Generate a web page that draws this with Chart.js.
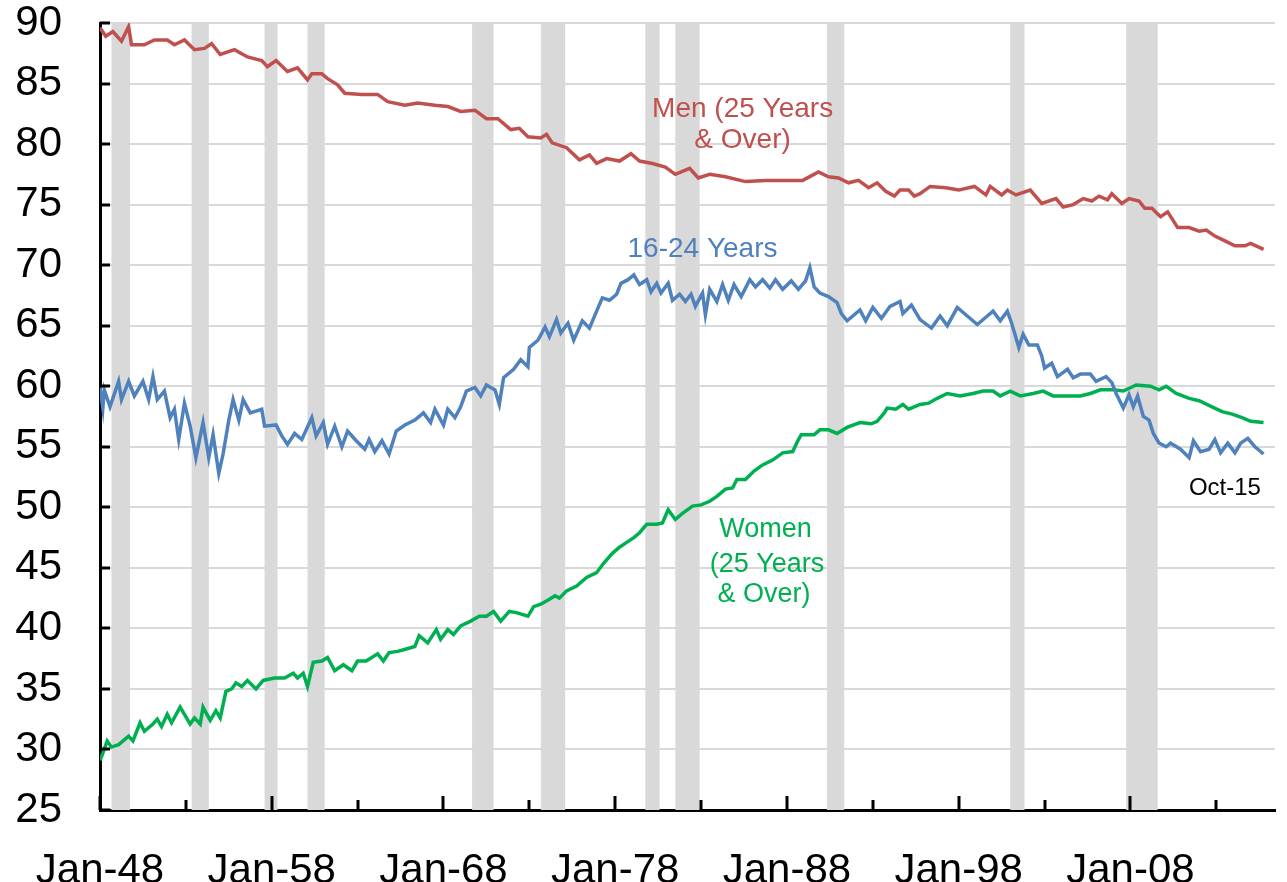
<!DOCTYPE html>
<html>
<head>
<meta charset="utf-8">
<script src="https://cdn.jsdelivr.net/npm/chart.js@4.4.0/dist/chart.umd.min.js"></script>
<style>
  html, body { margin: 0; padding: 0; background: #fff; }
</style>
</head>
<body>
<canvas id="myChart" width="1287" height="882"></canvas>
<script>
// months counted from Jan-48 (0 = Jan-48, 813 = Oct-15)
const menMonth = [0, 4, 9, 15, 20, 22, 31, 38, 47, 52, 59, 66, 73, 78, 84, 94, 103, 113, 117, 123, 131, 138, 145, 148, 155, 159, 166, 171, 183, 194, 201, 213, 222, 234, 243, 252, 262, 270, 278, 287, 293, 299, 308, 312, 316, 326, 335, 342, 347, 354, 363, 371, 377, 386, 395, 402, 412, 418, 426, 437, 451, 465, 479, 491, 502, 509, 516, 523, 530, 537, 543, 549, 555, 559, 565, 569, 573, 580, 591, 600, 611, 619, 622, 630, 634, 640, 650, 658, 668, 673, 680, 687, 693, 698, 704, 707, 714, 719, 726, 730, 735, 741, 746, 753, 761, 768, 773, 779, 786, 793, 800, 804, 813];
const menRate = [89.6, 88.9, 89.3, 88.5, 89.7, 88.2, 88.2, 88.6, 88.6, 88.2, 88.6, 87.8, 87.9, 88.3, 87.4, 87.8, 87.2, 86.9, 86.4, 86.9, 86.0, 86.3, 85.3, 85.8, 85.8, 85.4, 84.9, 84.2, 84.1, 84.1, 83.5, 83.2, 83.4, 83.2, 83.1, 82.7, 82.8, 82.1, 82.1, 81.2, 81.3, 80.6, 80.5, 80.8, 80.1, 79.7, 78.7, 79.1, 78.4, 78.8, 78.6, 79.2, 78.6, 78.4, 78.1, 77.5, 78.0, 77.2, 77.5, 77.3, 76.9, 77.0, 77.0, 77.0, 77.7, 77.3, 77.2, 76.8, 77.0, 76.4, 76.8, 76.1, 75.7, 76.2, 76.2, 75.7, 75.9, 76.5, 76.4, 76.2, 76.5, 75.8, 76.5, 75.8, 76.2, 75.8, 76.2, 75.1, 75.5, 74.8, 75.0, 75.5, 75.3, 75.7, 75.4, 75.9, 75.1, 75.5, 75.3, 74.7, 74.7, 74.0, 74.4, 73.1, 73.1, 72.8, 72.9, 72.4, 72.0, 71.6, 71.6, 71.8, 71.3];

const youthMonth = [0, 2, 3, 7, 13, 15, 20, 24, 30, 34, 37, 40, 45, 49, 52, 55, 59, 63, 67, 72, 76, 79, 83, 86, 90, 93, 97, 100, 105, 113, 115, 123, 127, 131, 136, 141, 148, 151, 156, 159, 164, 169, 173, 179, 185, 188, 192, 197, 202, 207, 213, 220, 226, 231, 234, 240, 243, 248, 252, 256, 262, 266, 270, 276, 279, 282, 289, 294, 299, 300, 306, 311, 314, 319, 322, 327, 331, 337, 342, 347, 351, 356, 361, 364, 369, 373, 377, 382, 385, 389, 392, 397, 400, 405, 409, 413, 416, 421, 423, 426, 431, 435, 439, 443, 448, 454, 458, 463, 468, 472, 477, 483, 488, 493, 496, 499, 503, 509, 515, 518, 522, 531, 535, 540, 546, 552, 559, 561, 567, 573, 581, 587, 592, 599, 606, 613, 620, 624, 629, 634, 637, 640, 642, 645, 649, 655, 658, 660, 665, 669, 676, 680, 685, 692, 696, 703, 707, 710, 715, 719, 722, 725, 729, 733, 736, 740, 745, 748, 755, 761, 764, 769, 775, 779, 783, 788, 793, 797, 802, 807, 813];
const youthRate = [59.9, 58.2, 59.7, 58.3, 60.4, 58.9, 60.4, 59.2, 60.4, 58.9, 60.8, 58.9, 59.6, 57.4, 58.1, 55.6, 58.6, 56.7, 54.1, 57.0, 54.1, 56.0, 52.8, 54.4, 57.2, 58.9, 57.2, 58.9, 57.8, 58.1, 56.7, 56.8, 55.9, 55.2, 56.1, 55.6, 57.4, 55.9, 57.0, 55.2, 56.7, 55.0, 56.3, 55.5, 54.8, 55.6, 54.6, 55.5, 54.4, 56.3, 56.8, 57.2, 57.8, 57.0, 58.1, 56.8, 58.1, 57.4, 58.3, 59.6, 59.9, 59.2, 60.1, 59.7, 58.5, 60.7, 61.4, 62.2, 61.6, 63.2, 63.8, 64.9, 64.1, 65.5, 64.4, 65.2, 63.8, 65.4, 64.8, 66.2, 67.3, 67.1, 67.6, 68.5, 68.8, 69.2, 68.4, 68.8, 67.8, 68.5, 67.7, 68.5, 67.1, 67.6, 67.0, 67.6, 66.6, 67.7, 65.9, 68.0, 67.0, 68.4, 67.1, 68.4, 67.4, 68.8, 68.2, 68.8, 68.1, 68.8, 68.0, 68.7, 68.0, 68.7, 69.8, 68.2, 67.7, 67.4, 66.9, 66.0, 65.4, 66.3, 65.4, 66.5, 65.6, 66.6, 67.0, 66.0, 66.7, 65.5, 64.8, 65.8, 65.0, 66.5, 65.8, 65.1, 65.8, 66.2, 65.4, 66.2, 65.2, 64.0, 63.2, 64.3, 63.4, 63.4, 62.5, 61.5, 61.9, 60.8, 61.4, 60.7, 61.0, 61.0, 60.4, 60.8, 60.3, 59.4, 58.2, 59.3, 58.3, 59.2, 57.5, 57.2, 56.1, 55.3, 55.0, 55.3, 54.8, 54.1, 55.5, 54.6, 54.8, 55.6, 54.5, 55.3, 54.5, 55.3, 55.7, 55.0, 54.4];

const womenMonth = [0, 2, 5, 8, 13, 20, 23, 28, 31, 37, 40, 43, 47, 50, 56, 59, 63, 66, 70, 72, 77, 81, 84, 88, 92, 95, 99, 103, 109, 114, 122, 129, 135, 138, 142, 145, 149, 155, 159, 164, 170, 176, 180, 186, 194, 198, 202, 208, 214, 220, 223, 229, 235, 238, 243, 247, 252, 259, 265, 270, 275, 280, 286, 291, 299, 303, 308, 314, 318, 321, 326, 333, 340, 347, 352, 358, 363, 368, 373, 377, 382, 389, 393, 397, 402, 407, 414, 420, 426, 431, 437, 442, 445, 451, 457, 463, 470, 477, 484, 488, 490, 499, 503, 509, 515, 522, 531, 539, 543, 548, 550, 556, 561, 565, 573, 579, 585, 592, 601, 610, 617, 624, 629, 636, 643, 652, 659, 666, 676, 685, 692, 699, 708, 715, 724, 734, 740, 745, 752, 761, 768, 777, 784, 791, 798, 804, 813];
const womenRate = [29.1, 29.7, 30.7, 30.2, 30.4, 31.1, 30.7, 32.2, 31.5, 32.1, 32.5, 31.9, 32.9, 32.2, 33.5, 32.9, 32.1, 32.6, 32.1, 33.5, 32.4, 33.2, 32.6, 34.8, 35.0, 35.5, 35.2, 35.7, 35.0, 35.7, 35.9, 35.9, 36.3, 35.9, 36.3, 35.2, 37.2, 37.3, 37.6, 36.5, 37.0, 36.5, 37.3, 37.3, 37.9, 37.3, 38.0, 38.1, 38.3, 38.5, 39.4, 38.8, 39.9, 39.1, 39.9, 39.5, 40.2, 40.6, 41.0, 41.0, 41.4, 40.6, 41.4, 41.3, 41.0, 41.8, 42.0, 42.4, 42.7, 42.5, 43.1, 43.5, 44.2, 44.6, 45.4, 46.2, 46.7, 47.1, 47.5, 47.9, 48.6, 48.6, 48.7, 49.8, 49.0, 49.5, 50.1, 50.2, 50.5, 50.9, 51.5, 51.6, 52.3, 52.3, 53.0, 53.5, 53.9, 54.5, 54.6, 55.6, 56.0, 56.0, 56.4, 56.4, 56.1, 56.6, 57.0, 56.9, 57.1, 57.8, 58.2, 58.1, 58.5, 58.1, 58.5, 58.6, 59.0, 59.4, 59.2, 59.4, 59.6, 59.6, 59.2, 59.6, 59.2, 59.4, 59.6, 59.2, 59.2, 59.2, 59.4, 59.7, 59.7, 59.6, 60.1, 60.0, 59.7, 60.0, 59.4, 59.0, 58.8, 58.3, 57.9, 57.7, 57.4, 57.1, 57.0];

// recession shading, months from Jan-48
const recessionStart = [8, 64, 115, 145, 260, 308, 381, 402, 508, 636, 717];
const recessionEnd = [21, 76, 124, 157, 275, 325, 391, 419, 520, 646, 739];

const xTickMonths = [0, 60, 120, 180, 240, 300, 360, 420, 480, 540, 600, 660, 720, 780];
const xTickLabels = ["Jan-48", "Jan-58", "Jan-68", "Jan-78", "Jan-88", "Jan-98", "Jan-08"];
const yTickValues = [25, 30, 35, 40, 45, 50, 55, 60, 65, 70, 75, 80, 85, 90];

const RED = "#c0504d";
const BLUE = "#4f81bd";
const GREEN = "#00b050";

function toPoints(months, values) {
    return months.map((m, i) => ({ x: m, y: values[i] }));
}

const notes = [
    { text: "Men (25 Years", x: 449, y: 82.9, color: RED, size: 28 },
    { text: "& Over)", x: 449, y: 80.35, color: RED, size: 28 },
    { text: "16-24 Years", x: 421, y: 71.3, color: BLUE, size: 28 },
    { text: "Women", x: 465, y: 48.2, color: GREEN, size: 27 },
    { text: "(25 Years", x: 466, y: 45.3, color: GREEN, size: 27 },
    { text: "& Over)", x: 464, y: 42.8, color: GREEN, size: 27 },
    { text: "Oct-15", x: 786, y: 51.6, color: "#000", size: 24 }
];

const recessionBars = {
    id: "recessionBars",
    beforeDatasetsDraw(chart) {
        const { ctx, chartArea, scales } = chart;
        ctx.save();
        ctx.fillStyle = "#d9d9d9";
        recessionStart.forEach((s, i) => {
            const x1 = scales.x.getPixelForValue(s);
            const x2 = scales.x.getPixelForValue(recessionEnd[i]);
            ctx.fillRect(x1, chartArea.top, x2 - x1, chartArea.bottom - chartArea.top);
        });
        ctx.restore();
    }
};

const innerTicks = {
    id: "innerTicks",
    afterDraw(chart) {
        const { ctx, chartArea, scales } = chart;
        ctx.save();
        ctx.strokeStyle = "#000";
        ctx.lineWidth = 3;
        ctx.beginPath();
        yTickValues.forEach(v => {
            const py = Math.round(scales.y.getPixelForValue(v));
            ctx.moveTo(chartArea.left, py);
            ctx.lineTo(chartArea.left + 10, py);
        });
        xTickMonths.forEach(m => {
            const px = Math.round(scales.x.getPixelForValue(m));
            const len = m % 120 === 0 ? 14 : 10;
            ctx.moveTo(px, chartArea.bottom);
            ctx.lineTo(px, chartArea.bottom - len);
        });
        ctx.stroke();

        ctx.textAlign = "center";
        ctx.textBaseline = "middle";
        notes.forEach(n => {
            ctx.font = n.size + "px 'Liberation Sans', Arial, sans-serif";
            ctx.fillStyle = n.color;
            ctx.fillText(n.text, scales.x.getPixelForValue(n.x), scales.y.getPixelForValue(n.y));
        });
        ctx.restore();
    }
};

const data = {
    datasets: [
        {
            label: "Men (25 Years & Over)",
            data: toPoints(menMonth, menRate),
            borderColor: RED,
            borderWidth: 3.5
        },
        {
            label: "16-24 Years",
            data: toPoints(youthMonth, youthRate),
            borderColor: BLUE,
            borderWidth: 3.5
        },
        {
            label: "Women (25 Years & Over)",
            data: toPoints(womenMonth, womenRate),
            borderColor: GREEN,
            borderWidth: 3.5
        }
    ]
};

const config = {
    type: "line",
    data: data,
    options: {
        responsive: false,
        animation: false,
        layout: { padding: { top: 23, right: 12, left: 0, bottom: 0 } },
        elements: { point: { radius: 0 }, line: { tension: 0 } },
        plugins: {
            legend: { display: false },
            tooltip: { enabled: false }
        },
        scales: {
            x: {
                type: "linear",
                min: 0,
                max: 821,
                afterBuildTicks: scale => {
                    scale.ticks = xTickMonths.map(v => ({ value: v }));
                },
                afterFit: scale => {
                    scale.height = 72;
                    scale.paddingLeft = 0;
                    scale.paddingRight = 0;
                },
                grid: { display: false },
                border: { color: "#000", width: 3 },
                ticks: {
                    autoSkip: false,
                    maxRotation: 0,
                    padding: 28,
                    color: "#000",
                    font: { family: "'Liberation Sans', Arial, sans-serif", size: 42 },
                    callback: value => (value % 120 === 0 ? xTickLabels[value / 120] : "")
                }
            },
            y: {
                min: 25,
                max: 90,
                afterBuildTicks: scale => {
                    scale.ticks = yTickValues.map(v => ({ value: v }));
                },
                afterFit: scale => {
                    scale.width = 100;
                    scale.paddingTop = 0;
                    scale.paddingBottom = 0;
                },
                grid: { color: "#d9d9d9", lineWidth: 2, drawTicks: false },
                border: { color: "#000", width: 3 },
                ticks: {
                    padding: 38,
                    color: "#000",
                    font: { family: "'Liberation Sans', Arial, sans-serif", size: 42 }
                }
            }
        }
    },
    plugins: [recessionBars, innerTicks]
};

const myChart = new Chart(document.getElementById("myChart"), config);
</script>
</body>
</html>
